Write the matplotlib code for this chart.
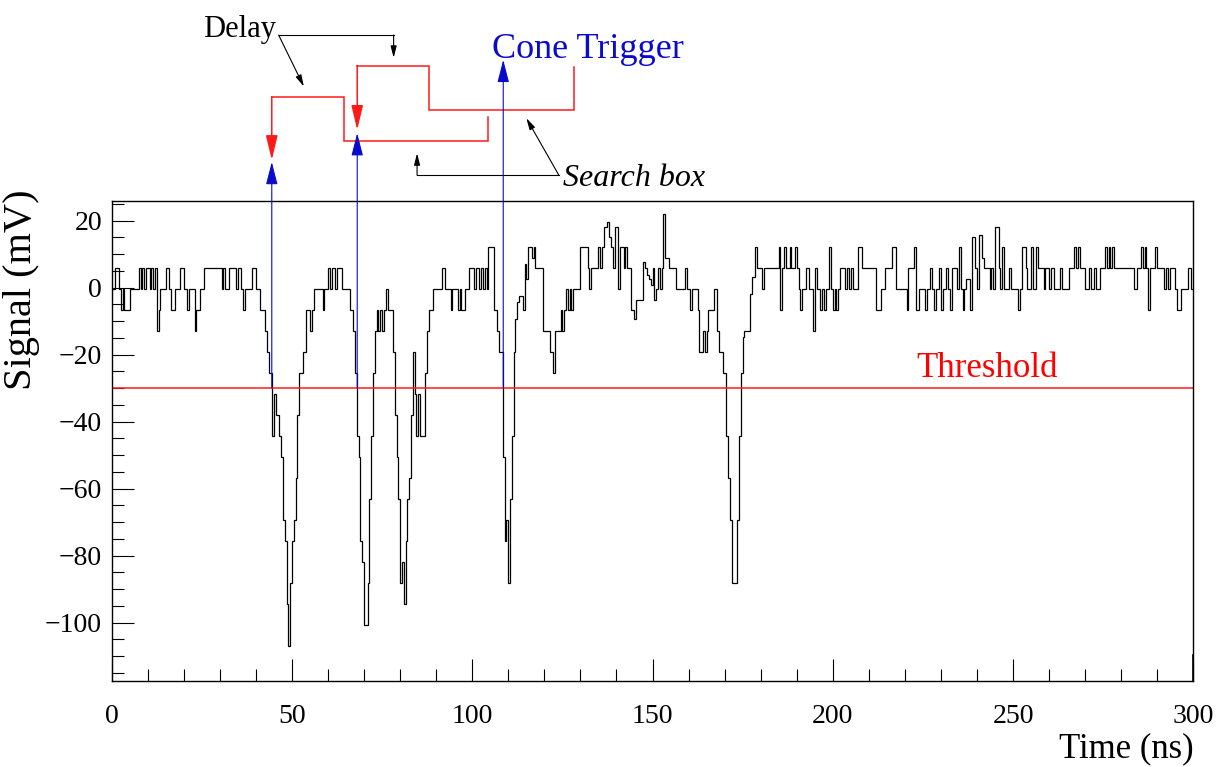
import numpy as np
import matplotlib
matplotlib.use("Agg")
import matplotlib.pyplot as plt
from matplotlib.ticker import MultipleLocator

plt.rcParams['font.family'] = ['Liberation Serif', 'DejaVu Serif']
plt.rcParams['mathtext.fontset'] = 'stix'

# ---------------- data ----------------
# waveform: time (ns) at which each step starts, and the level (mV) of that step
step_start_ns = [
    0.0, 1.0, 2.0, 2.5, 3.0, 3.5, 5.0, 7.5, 8.0, 8.5, 9.0, 9.5, 10.5, 11.0, 11.5, 12.0, 12.5, 13.0, 13.5,
    15.0, 16.0, 16.5, 17.5, 19.0, 20.0, 21.0, 21.5, 23.0, 23.5, 24.5, 25.5, 30.5, 31.0, 31.5, 32.5, 34.5,
    35.0, 36.0, 36.5, 37.0, 39.0, 40.0, 41.0, 42.5, 43.0, 43.5, 44.5, 45.0, 45.5, 46.5, 47.0, 47.5, 48.0,
    48.5, 49.0, 49.5, 50.0, 50.5, 51.0, 51.5, 52.0, 53.0, 54.0, 55.0, 55.5, 56.0, 58.5, 59.0, 60.0, 60.5,
    61.0, 62.0, 62.5, 64.0, 66.0, 67.0, 67.5, 68.0, 68.5, 69.0, 69.5, 70.0, 71.0, 71.5, 72.0, 72.5, 73.0,
    73.5, 74.0, 74.5, 75.0, 75.5, 76.0, 76.5, 78.0, 78.5, 79.0, 79.5, 80.0, 80.5, 81.0, 81.5, 82.0, 82.5,
    83.0, 83.5, 84.0, 84.5, 85.0, 85.5, 87.0, 87.5, 88.0, 89.0, 91.5, 92.5, 94.0, 94.5, 96.0, 96.5, 97.0,
    98.0, 99.0, 100.5, 101.0, 102.0, 102.5, 103.0, 103.5, 104.0, 104.5, 106.0, 107.0, 107.5, 108.5, 109.0,
    109.5, 110.0, 110.5, 111.0, 111.5, 112.0, 112.5, 113.0, 114.0, 114.5, 115.0, 115.5, 116.5, 117.0,
    117.5, 119.5, 121.5, 122.5, 123.0, 124.5, 125.0, 125.5, 126.0, 126.5, 127.0, 127.5, 128.0, 130.0,
    132.0, 132.5, 133.0, 135.0, 135.5, 136.0, 136.5, 137.5, 138.0, 138.5, 139.0, 139.5, 140.5, 141.0,
    142.0, 142.5, 143.0, 144.0, 145.0, 145.5, 147.5, 148.0, 148.5, 149.0, 149.5, 150.0, 150.5, 151.0,
    151.5, 152.0, 152.5, 153.0, 153.5, 154.5, 156.5, 159.0, 159.5, 160.5, 161.0, 162.5, 163.0, 164.0,
    164.5, 165.0, 165.5, 167.0, 168.0, 168.5, 169.5, 170.5, 171.0, 171.5, 172.0, 173.5, 174.0, 174.5,
    175.0, 175.5, 177.0, 177.5, 178.5, 179.0, 180.5, 181.0, 185.0, 185.5, 186.0, 186.5, 187.0, 188.0,
    188.5, 189.5, 190.0, 190.5, 191.0, 191.5, 192.5, 193.5, 194.5, 195.0, 195.5, 196.5, 197.0, 197.5,
    198.0, 199.0, 199.5, 200.0, 200.5, 201.0, 201.5, 202.0, 203.5, 204.0, 204.5, 205.0, 205.5, 207.0,
    208.0, 212.0, 213.5, 214.5, 216.5, 217.5, 220.5, 221.0, 222.5, 223.0, 224.0, 225.5, 226.0, 227.0,
    227.5, 228.0, 228.5, 229.5, 230.0, 230.5, 231.5, 232.0, 232.5, 233.0, 234.5, 235.0, 235.5, 236.0,
    236.5, 237.0, 238.0, 238.5, 239.5, 240.0, 240.5, 241.5, 242.0, 243.5, 244.0, 244.5, 245.0, 246.0,
    246.5, 247.0, 247.5, 249.0, 249.5, 251.5, 252.0, 252.5, 253.5, 254.0, 255.0, 255.5, 256.5, 257.0,
    258.5, 259.0, 260.0, 260.5, 261.5, 263.0, 263.5, 265.5, 267.0, 267.5, 268.0, 268.5, 270.0, 271.0,
    271.5, 272.5, 273.0, 274.0, 275.5, 276.0, 276.5, 277.0, 277.5, 278.0, 283.5, 284.5, 285.5, 286.0,
    286.5, 287.0, 287.5, 288.0, 289.5, 290.0, 292.0, 292.5, 293.0, 293.5, 295.0, 295.5, 296.5, 298.5,
    299.5,
]
signal_mv = [
    -0.5, 5.7, -0.5, -6.8, -0.5, -6.8, -0.5, 5.7, -0.5, 5.7, -0.5, 5.7, -0.5, 5.7, -0.5, 5.7, -13.1, -6.8, -0.5,
    5.7, -0.5, -6.8, -0.5, 5.7, -0.5, -6.8, -0.5, -13.1, -6.8, -0.5, 5.7, -0.5, 5.7, -0.5, 5.7, -0.5,
    5.7, -0.5, -6.8, -0.5, 5.7, -0.5, -6.8, -13.1, -19.3, -25.6, -44.3, -31.8, -38.1, -44.3, -50.6, -69.4, -75.6,
    -94.4, -106.9, -88.1, -75.6, -69.4, -56.9, -38.1, -25.6, -19.3, -6.8, -13.1, -6.8, -0.5, -6.8, -0.5, 5.7, -0.5,
    5.7, -0.5, 5.7, -0.5, -6.8, -13.1, -25.6, -44.3, -50.6, -75.6, -81.9, -100.6, -88.1, -63.1, -44.3, -25.6, -13.1,
    -6.8, -13.1, -6.8, -13.1, -6.8, -0.5, -6.8, -19.3, -38.1, -50.6, -63.1, -88.1, -81.9, -94.4, -75.6, -63.1, -56.9,
    -38.1, -19.3, -31.8, -44.3, -31.8, -44.3, -25.6, -13.1, -6.8, -0.5, 5.7, -0.5, -6.8, -0.5, -6.8, -0.5, -6.8,
    -0.5, 5.7, -0.5, 5.7, -0.5, 5.7, -0.5, 5.7, -0.5, 12.0, -6.8, -13.1, -19.3, -50.6, -75.6,
    -69.4, -88.1, -63.1, -44.3, -19.3, -9.3, -4.3, -2.4, -6.8, 7.0, 2.6, 12.0, 8.8, 12.0,
    5.7, -13.1, -19.3, -25.6, -13.1, -6.8, -13.1, -6.8, -0.5, -6.8, -0.5, -6.8, -0.5, 12.0,
    5.7, -0.5, 5.7, 12.0, 5.7, 12.0, 18.2, 19.5, 15.1, 12.0, 5.7, 18.2, -0.5, 12.0,
    5.7, 12.0, 5.7, -6.8, -9.3, -3.7, 7.6, 5.7, 3.8, 2.6, 0.7, 5.7, -3.7, -0.5,
    5.7, -0.5, 5.7, 22.0, 8.8, 5.7, -0.5, 5.7, -0.5, -6.8, -0.5, -6.8, -19.3, -13.1,
    -19.3, -13.1, -6.8, -0.5, -13.1, -19.3, -25.6, -44.3, -56.9, -69.4, -88.1, -69.4, -44.3, -25.6,
    -14.9, -13.1, -1.8, 3.2, 12.0, 5.7, -0.5, 5.7, 12.0, -6.8, 5.7, 12.0, 5.7, 12.0,
    5.7, 12.0, 5.7, -0.5, -6.8, -0.5, 5.7, -0.5, -13.1, 5.7, -0.5, -6.8, -0.5, -6.8,
    -0.5, 12.0, -0.5, -6.8, -0.5, -6.8, -0.5, 5.7, -0.5, 5.7, -0.5, 5.7, -0.5, 12.0,
    5.7, -6.8, -0.5, 5.7, 12.0, -0.5, -6.8, 5.7, 12.0, -6.8, -0.5, -6.8, -0.5, 5.7,
    -0.5, -6.8, -0.5, 5.7, -6.8, -0.5, 5.7, -0.5, -6.8, 5.7, -0.5, 12.0, -0.5, -6.8,
    -0.5, 2.6, -6.8, 15.1, 5.7, -0.5, 15.7, 8.8, 5.7, -0.5, 5.7, -0.5, 18.2, 5.7,
    -0.5, 12.0, -0.5, 5.7, -0.5, -6.8, -0.5, 12.0, 5.7, -0.5, 12.0, -0.5, 12.0, 5.7,
    -0.5, 5.7, -0.5, 5.7, -0.5, 5.7, -0.5, 5.7, 12.0, 5.7, 12.0, 5.7, -0.5, 5.7,
    -0.5, 5.7, -0.5, 5.7, 12.0, 5.7, 12.0, 5.7, 12.0, 5.7, -0.5, 5.7, 12.0, 5.7,
    12.0, 5.7, -6.8, 5.7, 12.0, 5.7, -0.5, 5.7, -0.5, 5.7, -0.5, -6.8, -0.5, 5.7,
    -0.5,
]
time_end_ns = 300.0

threshold_mv = -30.0
trigger_times_ns = [44.4, 68.1, 108.6]   # threshold crossings (blue arrows)
delay_ns = 20.0
search_window_ns = 40.0

x_ticks = [0, 50, 100, 150, 200, 250, 300]
y_ticks = [-100, -80, -60, -40, -20, 0, 20]

# ---------------- figure ----------------
W, H = 1223, 767
fig = plt.figure(figsize=(W / 100, H / 100), dpi=100)
ax = fig.add_axes([111.7 / W, 1 - 680.5 / H, (1193.3 - 111.7) / W, (680.5 - 200.5) / H])

edges = np.append(np.array(step_start_ns), time_end_ns)
ax.stairs(signal_mv, edges, color='black', lw=0.9, baseline=None)

ax.set_xlim(0, 300)
ax.set_ylim(-117.3, 26.0)

# threshold
ax.axhline(threshold_mv, color='#ff1a1a', lw=1.1)
ax.text(242.7, -26.6, 'Threshold', color='#ff0000', fontsize=25, ha='center', va='baseline')

# right edge marker of the histogram
ax.plot([300, 300], [-117.3, -109.6], color='black', lw=1.2, clip_on=False)

# ticks
ax.xaxis.set_major_locator(MultipleLocator(50))
ax.xaxis.set_minor_locator(MultipleLocator(10))
ax.yaxis.set_major_locator(MultipleLocator(20))
ax.yaxis.set_minor_locator(MultipleLocator(5))
ax.set_xticks(x_ticks)
ax.set_yticks(y_ticks)
ax.tick_params(axis='both', which='both', direction='in', top=False, right=False,
               colors='black', labelsize=20)
ax.tick_params(axis='both', which='major', length=15.8, width=0.8)
ax.tick_params(axis='both', which='minor', length=8.4, width=0.8)
ax.tick_params(axis='x', which='major', pad=17)
ax.tick_params(axis='y', which='major', pad=7)
for s in ax.spines.values():
    s.set_linewidth(1.0)
    s.set_color('black')

ax.set_xlabel('Time (ns)', fontsize=25)
ax.xaxis.set_label_coords(1.0, -0.108)
ax.xaxis.label.set_horizontalalignment('right')
ax.set_ylabel('Signal (mV)', fontsize=29)
ax.yaxis.set_label_coords(-0.066, 0.815)

# ---------------- annotations ----------------
blue = '#0a0acc'
red = '#ff1a1a'


def arrow(x0, y0, x1, y1, color, lw, hl, hw):
    ax.annotate('', xy=(x1, y1), xytext=(x0, y0), annotation_clip=False,
                arrowprops=dict(arrowstyle=f'-|>,head_length={hl},head_width={hw}',
                                color=color, lw=lw, shrinkA=0, shrinkB=0,
                                mutation_scale=1))


# blue trigger arrows from threshold
blue_tips = [37.5, 46.1, 68.0]
for t, tip in zip(trigger_times_ns, blue_tips):
    arrow(t, threshold_mv, t, tip, blue, 0.8, 14, 3.6)

# red delay + search boxes
red_tops = [57.0, 66.3]
red_lows = [43.9, 53.0]
red_ends = [51.0, 66.0]
red_tips = [38.1, 47.1]
for t, top, low, end, tip in zip(trigger_times_ns[:2], red_tops, red_lows, red_ends, red_tips):
    xs = [t, t + delay_ns, t + delay_ns, t + delay_ns + search_window_ns, t + delay_ns + search_window_ns]
    ys = [top, top, low, low, end]
    ax.plot(xs, ys, color=red, lw=1.1, clip_on=False, solid_joinstyle='miter')
    arrow(t, top, t, tip, red, 1.1, 15, 3.6)

ax.text(132.2, 68.5, 'Cone Trigger', color=blue, fontsize=26, ha='center', va='baseline')

# Delay labels
ax.text(35.6, 74.9, 'Delay', color='black', fontsize=22, ha='center', va='baseline')
ax.plot([46.3, 78.2], [75.4, 75.4], color='black', lw=0.8, clip_on=False)
arrow(78.2, 75.4, 78.2, 68.6, 'black', 0.8, 7, 1.8)
arrow(46.3, 75.4, 53.3, 60.0, 'black', 0.8, 7, 1.8)

# Search box labels
ax.text(125.2, 30.3, 'Search box', color='black', fontsize=23, style='italic',
        ha='left', va='baseline')
ax.plot([124.0, 84.7], [33.6, 33.6], color='black', lw=0.8, clip_on=False)
arrow(84.7, 33.6, 84.7, 40.1, 'black', 0.8, 7, 1.8)
arrow(124.0, 33.6, 115.0, 50.6, 'black', 0.8, 7, 1.8)

fig.savefig('out.png', dpi=100)
